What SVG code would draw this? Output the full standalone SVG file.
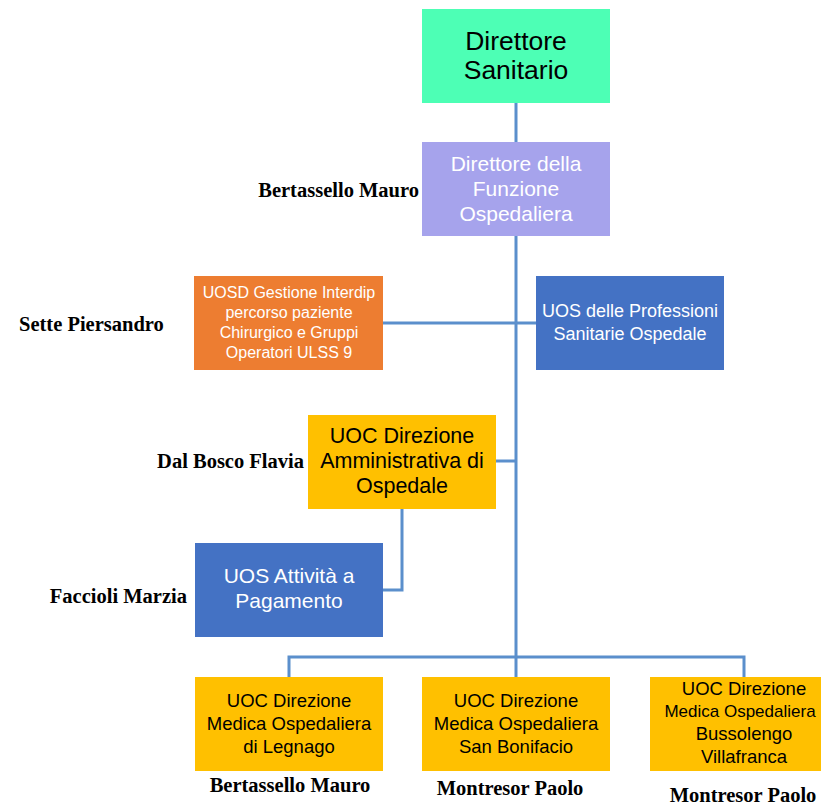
<svg xmlns="http://www.w3.org/2000/svg" width="821" height="807" viewBox="0 0 821 807">
<style>
.c{stroke:#5B8FCC;stroke-width:3;fill:none}
.t{font-family:"Liberation Sans",Arial,sans-serif;text-anchor:middle}
.w{fill:#FFFFFF}
.k{fill:#000000}
.lb{font-family:"Liberation Serif","Times New Roman",serif;font-weight:bold;font-size:20.5px;fill:#000}
</style>
<rect width="821" height="807" fill="#FFFFFF"/>
<g id="connectors">
<line class="c" x1="516" y1="103" x2="516" y2="657"/>
<line class="c" x1="383" y1="323" x2="536" y2="323"/>
<line class="c" x1="496" y1="461" x2="516" y2="461"/>
<polyline class="c" points="402,509 402,590 383,590"/>
<polyline class="c" points="289,677 289,657 744,657 744,677"/>
<line class="c" x1="516" y1="657" x2="516" y2="677"/>
</g>
<g id="n-direttore-sanitario">
<rect x="422" y="9" width="188" height="94" fill="#4DFFB5"/>
<text class="t k" font-size="26.5" x="516" y="49.5">Direttore</text>
<text class="t k" font-size="26.5" x="516" y="78.5">Sanitario</text>
</g>
<g id="n-funzione-ospedaliera">
<rect x="422" y="142" width="188" height="94" fill="#A6A3EC"/>
<text class="t w" font-size="21" x="516" y="171">Direttore della</text>
<text class="t w" font-size="21" x="516" y="196">Funzione</text>
<text class="t w" font-size="21" x="516" y="221">Ospedaliera</text>
<text class="lb" x="419" y="197" text-anchor="end">Bertassello Mauro</text>
</g>
<g id="n-uosd">
<rect x="194" y="276" width="189" height="94" fill="#ED7D31"/>
<text class="t w" font-size="16" x="289" y="298">UOSD Gestione Interdip</text>
<text class="t w" font-size="16" x="289" y="318">percorso paziente</text>
<text class="t w" font-size="16" x="289" y="338">Chirurgico e Gruppi</text>
<text class="t w" font-size="16" x="289" y="358">Operatori ULSS 9</text>
<text class="lb" x="19" y="331">Sette Piersandro</text>
</g>
<g id="n-uos-professioni">
<rect x="536" y="276" width="188" height="94" fill="#4472C4"/>
<text class="t w" font-size="18" x="630" y="317">UOS delle Professioni</text>
<text class="t w" font-size="18" x="630" y="340">Sanitarie Ospedale</text>
</g>
<g id="n-uoc-amministrativa">
<rect x="308" y="415" width="188" height="94" fill="#FFC000"/>
<text class="t k" font-size="21.5" x="402" y="443">UOC Direzione</text>
<text class="t k" font-size="21.5" x="402" y="468">Amministrativa di</text>
<text class="t k" font-size="21.5" x="402" y="493">Ospedale</text>
<text class="lb" x="304" y="468" text-anchor="end">Dal Bosco Flavia</text>
</g>
<g id="n-uos-pagamento">
<rect x="195" y="543" width="188" height="94" fill="#4472C4"/>
<text class="t w" font-size="21" x="289" y="583">UOS Attività a</text>
<text class="t w" font-size="21" x="289" y="608">Pagamento</text>
<text class="lb" x="187" y="603" text-anchor="end">Faccioli Marzia</text>
</g>
<g id="n-legnago">
<rect x="195" y="677" width="188" height="94" fill="#FFC000"/>
<text class="t k" font-size="18.5" x="289" y="707">UOC Direzione</text>
<text class="t k" font-size="18.5" x="289" y="730">Medica Ospedaliera</text>
<text class="t k" font-size="18.5" x="289" y="753">di Legnago</text>
<text class="lb" x="290" y="792" text-anchor="middle">Bertassello Mauro</text>
</g>
<g id="n-san-bonifacio">
<rect x="422" y="677" width="188" height="94" fill="#FFC000"/>
<text class="t k" font-size="18.5" x="516" y="707">UOC Direzione</text>
<text class="t k" font-size="18.5" x="516" y="730">Medica Ospedaliera</text>
<text class="t k" font-size="18.5" x="516" y="753">San Bonifacio</text>
<text class="lb" x="510" y="795" text-anchor="middle">Montresor Paolo</text>
</g>
<g id="n-bussolengo">
<rect x="650" y="677" width="188" height="94" fill="#FFC000"/>
<text class="t k" font-size="18.5" x="744" y="695">UOC Direzione</text>
<text class="t k" font-size="17" x="740" y="717">Medica Ospedaliera</text>
<text class="t k" font-size="18.5" x="744" y="740">Bussolengo</text>
<text class="t k" font-size="18.5" x="744" y="763">Villafranca</text>
<text class="lb" x="743" y="802" text-anchor="middle">Montresor Paolo</text>
</g>
</svg>
